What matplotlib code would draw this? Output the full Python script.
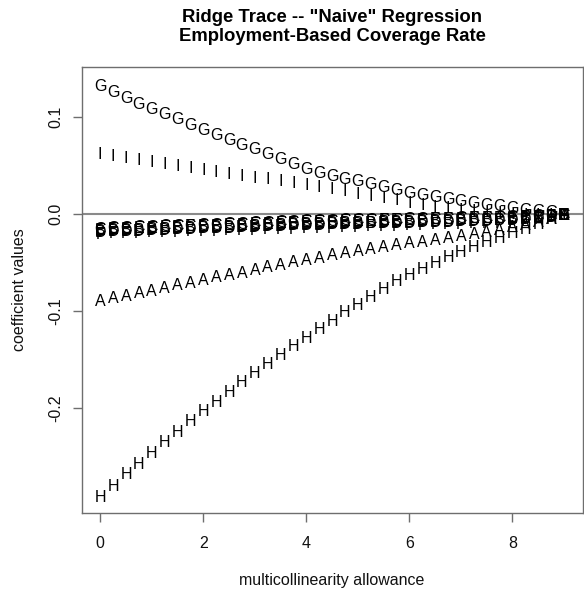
import matplotlib
matplotlib.use("Agg")
import matplotlib.pyplot as plt

plt.rcParams['font.family'] = ['Liberation Sans', 'DejaVu Sans']

# multicollinearity allowance (m), steps of 0.25
allowance = [0.0, 0.25, 0.5, 0.75, 1.0, 1.25, 1.5, 1.75, 2.0, 2.25, 2.5, 2.75,
             3.0, 3.25, 3.5, 3.75, 4.0, 4.25, 4.5, 4.75, 5.0, 5.25, 5.5, 5.75,
             6.0, 6.25, 6.5, 6.75, 7.0, 7.25, 7.5, 7.75, 8.0, 8.25, 8.5, 8.75, 9.0]

# ridge coefficients, one list per predictor
coef_A = [-0.088, -0.0855, -0.083, -0.080, -0.0775, -0.075, -0.072, -0.0695, -0.067,
          -0.064, -0.0615, -0.059, -0.056, -0.0535, -0.051, -0.0485, -0.046,
          -0.0435, -0.041, -0.039, -0.037, -0.035, -0.033, -0.031, -0.029,
          -0.027, -0.025, -0.023, -0.021, -0.019, -0.017, -0.015, -0.012,
          -0.010, -0.007, -0.004, 0.0]
coef_B = [-0.016, -0.0156, -0.0151, -0.0147, -0.0143, -0.0138, -0.0134, -0.0129, -0.0125,
          -0.0121, -0.0116, -0.0112, -0.0108, -0.0103, -0.0099, -0.0094, -0.009,
          -0.0087, -0.0084, -0.0081, -0.0078, -0.0075, -0.0071, -0.0068, -0.0065,
          -0.0062, -0.0059, -0.0056, -0.0053, -0.0049, -0.0046, -0.0043, -0.004,
          -0.003, -0.002, -0.001, 0.0]
coef_C = [-0.014, -0.0135, -0.013, -0.0125, -0.012, -0.0115, -0.011, -0.0105, -0.010,
          -0.0095, -0.009, -0.0085, -0.008, -0.0075, -0.007, -0.0065, -0.006,
          -0.0058, -0.0055, -0.0053, -0.005, -0.0048, -0.0045, -0.0043, -0.004,
          -0.0038, -0.0035, -0.0033, -0.003, -0.0028, -0.0025, -0.0023, -0.002,
          -0.0015, -0.001, -0.0005, 0.0]
coef_D = [-0.017, -0.0166, -0.0161, -0.0157, -0.0153, -0.0148, -0.0144, -0.0139, -0.0135,
          -0.0131, -0.0126, -0.0122, -0.0118, -0.0113, -0.0109, -0.0104, -0.010,
          -0.0097, -0.0094, -0.0091, -0.0088, -0.0084, -0.0081, -0.0078, -0.0075,
          -0.0072, -0.0069, -0.0066, -0.0063, -0.0059, -0.0056, -0.0053, -0.005,
          -0.0038, -0.0025, -0.0013, 0.0]
coef_E = [-0.015, -0.0145, -0.014, -0.0135, -0.013, -0.0125, -0.012, -0.0115, -0.011,
          -0.0105, -0.010, -0.0095, -0.009, -0.0085, -0.008, -0.0075, -0.007,
          -0.0067, -0.0064, -0.0061, -0.0058, -0.0055, -0.0052, -0.0049, -0.0046,
          -0.0043, -0.004, -0.0037, -0.0034, -0.0031, -0.0029, -0.0027, -0.0025,
          -0.0019, -0.0013, -0.0006, 0.0]
coef_F = [-0.019, -0.0187, -0.0183, -0.018, -0.0176, -0.0173, -0.0169, -0.0166, -0.0163,
          -0.0159, -0.0156, -0.0152, -0.0149, -0.0145, -0.0142, -0.0138, -0.0135,
          -0.0131, -0.0127, -0.0123, -0.0119, -0.0115, -0.0111, -0.0107, -0.0103,
          -0.0098, -0.0094, -0.009, -0.0086, -0.0082, -0.0078, -0.0074, -0.007,
          -0.0053, -0.0035, -0.0018, 0.0]
coef_G = [0.133, 0.127, 0.121, 0.115, 0.110, 0.104, 0.099, 0.093, 0.088,
          0.083, 0.078, 0.073, 0.068, 0.063, 0.058, 0.053, 0.048,
          0.044, 0.041, 0.037, 0.035, 0.032, 0.029, 0.026, 0.023,
          0.021, 0.019, 0.017, 0.015, 0.013, 0.011, 0.0095, 0.008,
          0.006, 0.0045, 0.003, 0.0]
coef_H = [-0.290, -0.279, -0.267, -0.256, -0.245, -0.234, -0.223, -0.212, -0.202,
          -0.192, -0.182, -0.172, -0.163, -0.153, -0.144, -0.135, -0.126,
          -0.117, -0.109, -0.100, -0.092, -0.084, -0.076, -0.068, -0.061,
          -0.055, -0.049, -0.043, -0.038, -0.033, -0.028, -0.023, -0.018,
          -0.014, -0.009, -0.004, 0.0]
coef_I = [0.063, 0.061, 0.059, 0.057, 0.055, 0.053, 0.051, 0.049, 0.047,
          0.045, 0.043, 0.041, 0.039, 0.037, 0.035, 0.033, 0.031,
          0.029, 0.027, 0.025, 0.022, 0.020, 0.018, 0.0155, 0.013,
          0.011, 0.009, 0.0075, 0.006, 0.0045, 0.003, 0.002, 0.001,
          0.0005, 0.0, 0.0, 0.0]

letters = ['A', 'B', 'C', 'D', 'E', 'F', 'G', 'H', 'I']
traces = [coef_A, coef_B, coef_C, coef_D, coef_E, coef_F, coef_G, coef_H, coef_I]

xticks = [0, 2, 4, 6, 8]
yticks = [-0.2, -0.1, 0.0, 0.1]
ytick_labels = ['-0.2', '-0.1', '0.0', '0.1']

W, H = 584, 590
fig = plt.figure(figsize=(W / 100, H / 100), dpi=100)
ax = fig.add_axes([81.7 / W, 1 - 512.7 / H, (582.5 - 81.7) / W, (512.7 - 67) / H])

ax.axhline(0, color='#8a8a8a', lw=1.5, zorder=1)

for lab, vals in zip(letters, traces):
    for xv, yv in zip(allowance, vals):
        ax.text(xv, yv, lab, ha='center', va='center_baseline', fontsize=11.5,
                color='black', zorder=2)

ax.set_xlim(-0.36, 9.36)
ax.set_ylim(-0.3076, 0.1519)

ax.set_xticks(xticks)
ax.set_xticklabels([str(t) for t in xticks])
ax.set_yticks(yticks)
ax.set_yticklabels(ytick_labels, rotation=90, va='center')

for sp in ax.spines.values():
    sp.set_color('#6e6e6e')
    sp.set_linewidth(1.0)
ax.tick_params(direction='out', length=6.5, width=1, color='#6e6e6e',
               labelsize=11.5, labelcolor='#111111')
ax.tick_params(axis='x', pad=10)
ax.tick_params(axis='y', pad=6.5)

cx = (81.7 + 582.5) / 2 / W
fig.text(cx, 1 - 17.3 / H, 'Ridge Trace -- "Naive" Regression', ha='center', va='center',
         fontsize=13.3, fontweight='bold')
fig.text(cx, 1 - 36.7 / H, 'Employment-Based Coverage Rate', ha='center', va='center',
         fontsize=13.3, fontweight='bold')
fig.text(cx, 1 - 580 / H, 'multicollinearity allowance', ha='center', va='center',
         fontsize=11.5, color='#111111')
fig.text(20 / W, 1 - (67 + 512.7) / 2 / H, 'coefficient values', ha='center', va='center',
         rotation=90, fontsize=11.5, color='#111111')

fig.savefig('out.png', dpi=100)
